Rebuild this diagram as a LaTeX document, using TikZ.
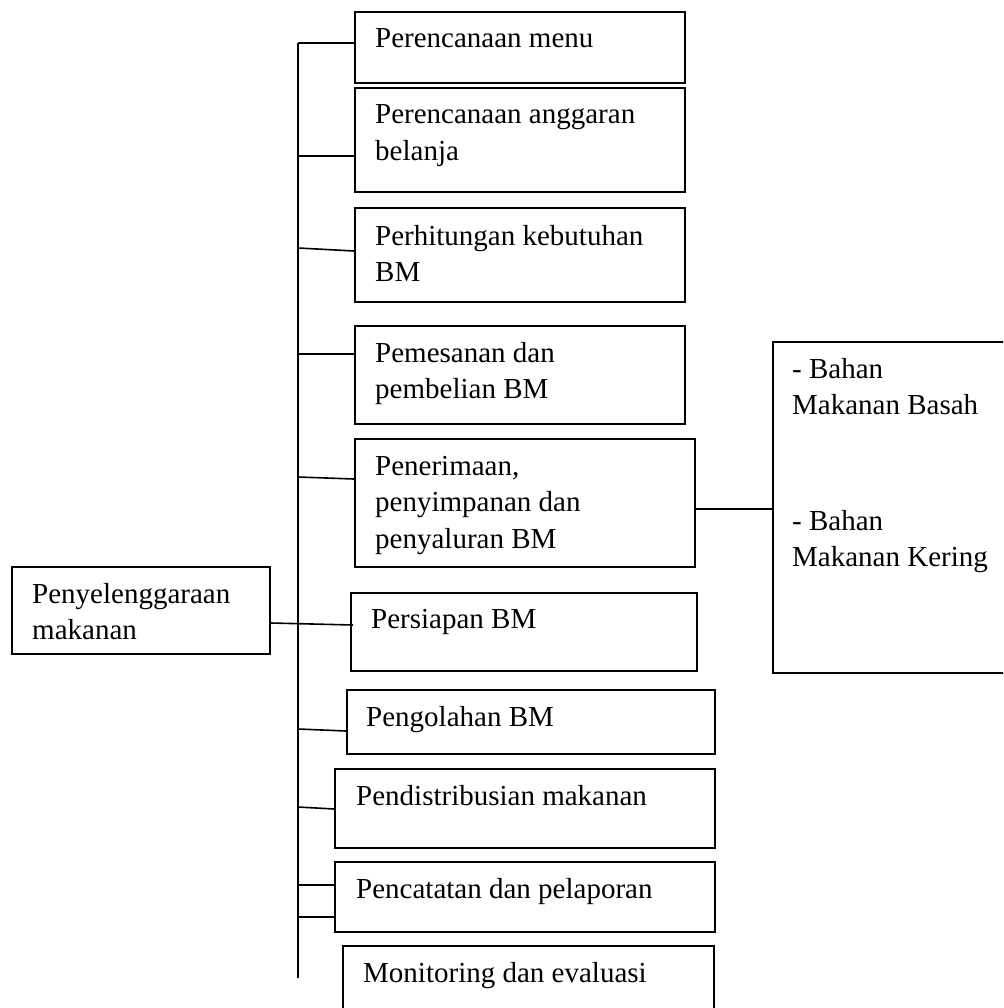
\documentclass[tikz,border=0pt]{standalone}
\usepackage{fontspec}
\setmainfont{Liberation Serif}
\begin{document}
\begin{tikzpicture}[x=1pt,y=-1pt,
  box/.style={draw, line width=1.7pt, rectangle, inner sep=0pt, anchor=north west},
  txt/.style={inner sep=0pt, anchor=base west, align=left, font=\fontsize{29}{36.5}\selectfont},
  conn/.style={line width=1.6pt}]
\useasboundingbox (0,0) rectangle (1003,1008);
\clip (0,0) rectangle (1003,1008);
% boxes
\node[box, minimum width=330pt, minimum height=71pt]  (b1) at (354,11) {};
\node[box, minimum width=330pt, minimum height=104pt] (b2) at (354,87) {};
\node[box, minimum width=330pt, minimum height=94pt]  (b3) at (354,207) {};
\node[box, minimum width=330pt, minimum height=98pt]  (b4) at (354,325) {};
\node[box, minimum width=340pt, minimum height=128pt] (b5) at (354,438) {};
\node[box, minimum width=346pt, minimum height=78pt]  (b6) at (350,592) {};
\node[box, minimum width=368pt, minimum height=64pt]  (b7) at (346,689) {};
\node[box, minimum width=380pt, minimum height=79pt]  (b8) at (334,768) {};
\node[box, minimum width=380pt, minimum height=70pt]  (b9) at (334,861) {};
\node[box, minimum width=371pt, minimum height=80pt]  (b10) at (342,945) {};
\node[box, minimum width=258pt, minimum height=87pt]  (m) at (11,566) {};
\node[box, minimum width=250pt, minimum height=331pt] (r) at (772,341) {};
% texts (anchor = baseline of last line)
\node[txt] (t1) at (375,48) {Perencanaan menu};
\node[txt] (t2) at (375,160.5) {Perencanaan anggaran\\belanja};
\node[txt] (t3) at (375,281.5) {Perhitungan kebutuhan\\BM};
\node[txt] (t4) at (375,398.5) {Pemesanan dan\\pembelian BM};
\node[txt] (t5) at (375,548) {Penerimaan,\\penyimpanan dan\\penyaluran BM};
\node[txt] (t6) at (371,628) {Persiapan BM};
\node[txt] (t7) at (366,726) {Pengolahan BM};
\node[txt] (t8) at (356,805) {Pendistribusian makanan};
\node[txt] (t9) at (356,898) {Pencatatan dan pelaporan};
\node[txt] (t10) at (363,982) {Monitoring dan evaluasi};
\node[txt] (tm) at (32,639.5) {Penyelenggaraan\\makanan};
\node[txt] (tr1) at (792,414.5) {- Bahan\\Makanan Basah};
\node[txt] (tr2) at (792,566.5) {- Bahan\\Makanan Kering};
% spine
\coordinate (sTop) at (298,43);
\coordinate (sBot) at (298,978);
\draw[conn] (sTop) -- (sBot);
\coordinate (s1) at (298,43);
\coordinate (s2) at (298,156);
\coordinate (s3) at (298,248);
\coordinate (s4) at (298,354);
\coordinate (s5) at (298,477);
\coordinate (s7) at (298,729);
\coordinate (s8) at (298,807);
\coordinate (s9a) at (298,885);
\coordinate (s9b) at (298,917);
\draw[conn] (s1) -- (b1.west |- s1);
\draw[conn] (s2) -- (b2.west |- s2);
\draw[conn] (s3) -- ([yshift=-3pt]b3.west |- s3);
\draw[conn] (s4) -- (b4.west |- s4);
\draw[conn] (s5) -- ([yshift=-2pt]b5.west |- s5);
\draw[conn] (m.east |- 0,623) -- ([xshift=3pt]b6.west |- 0,625);
\draw[conn] (s7) -- ([yshift=-2pt]b7.west |- s7);
\draw[conn] (s8) -- ([yshift=-2pt]b8.west |- s8);
\draw[conn] (s9a) -- (b9.west |- s9a);
\draw[conn] (s9b) -- (b9.west |- s9b);
\draw[conn] (b5.east |- 0,509) -- (r.west |- 0,509);
\end{tikzpicture}
\end{document}
